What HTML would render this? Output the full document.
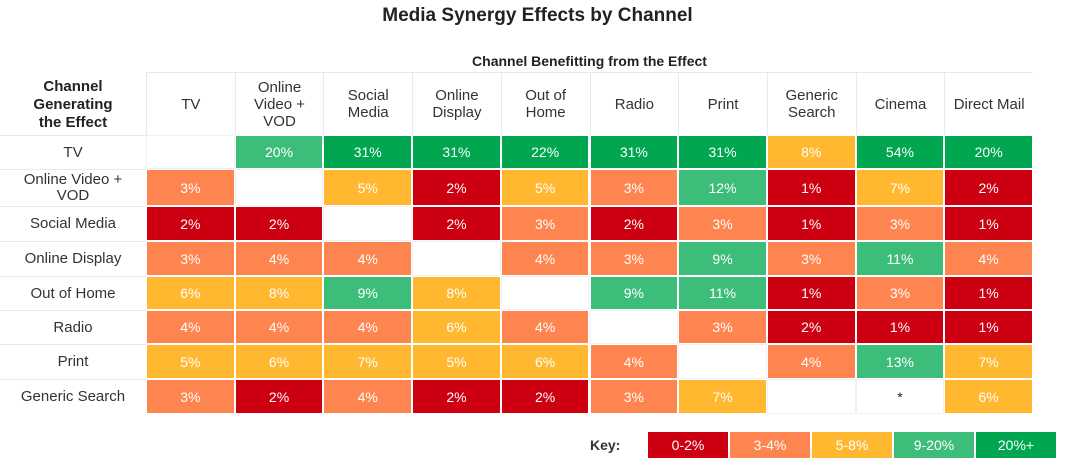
<!DOCTYPE html>
<html><head><meta charset="utf-8">
<style>
body{margin:0;width:1075px;height:465px;background:#fff;font-family:"Liberation Sans",sans-serif;position:relative;overflow:hidden;color:#333}
.abs{position:absolute}
#title{left:0;width:1075px;top:5px;text-align:center;font-weight:bold;font-size:19px;color:#222}
#sub{left:146px;width:887px;top:53px;text-align:center;font-weight:bold;font-size:14px;color:#222}
.hdr{display:flex;align-items:center;justify-content:center;text-align:center;font-size:15px;line-height:17px;color:#333;box-sizing:border-box;border-left:1px solid #e6eaf0;border-top:1px solid #e6eaf0}
.rl{display:flex;align-items:center;justify-content:center;text-align:center;font-size:15px;line-height:16px;color:#333;border-top:1px solid #e6eaf0;box-sizing:border-box}
.cell{display:flex;align-items:center;justify-content:center;font-size:14px;color:#fff;box-sizing:border-box;border:1px solid #fff}
</style></head><body>
<div id="title" class="abs">Media Synergy Effects by Channel</div>
<div id="sub" class="abs">Channel Benefitting from the Effect</div>
<div class="abs" style="left:0;width:146px;top:78px;text-align:center;font-weight:bold;font-size:15px;line-height:18px;color:#222">Channel<br>Generating<br>the Effect</div>
<div id="grid"></div>
<script>
const cols=["TV","Online<br>Video +<br>VOD","Social<br>Media","Online<br>Display","Out of<br>Home","Radio","Print","Generic<br>Search","Cinema","Direct Mail"];
const rows=["TV","Online Video +<br>VOD","Social Media","Online Display","Out of Home","Radio","Print","Generic Search"];
const vals=[
[null,20,31,31,22,31,31,8,54,20],
[3,null,5,2,5,3,12,1,7,2],
[2,2,null,2,3,2,3,1,3,1],
[3,4,4,null,4,3,9,3,11,4],
[6,8,9,8,null,9,11,1,3,1],
[4,4,4,6,4,null,3,2,1,1],
[5,6,7,5,6,4,null,4,13,7],
[3,2,4,2,2,3,7,null,"*",6]];
const tvOV=[0,1]; // TV->Online Video 20% shown in 9-20 bucket
const keyLabels=["0-2%","3-4%","5-8%","9-20%","20%+"];
const keyColors=["#cc0011","#ff8550","#ffb830","#3dbd7a","#00a650"];
function color(v,r,c){if(typeof v!=="number")return null;
 if(v<=2)return keyColors[0];if(v<=4)return keyColors[1];if(v<=8)return keyColors[2];if(v<=20&&!(v===20&&!(r===tvOV[0]&&c===tvOV[1])))return keyColors[3];return keyColors[4];}
const g=document.getElementById('grid');
const x0=146,cw=88.7,hy=72,hh=63;
const rowY=[135,169,206,241,276,310,344,379,414];
cols.forEach((t,i)=>{const d=document.createElement('div');d.className='abs hdr';


d.style.cssText+=`left:${x0+i*cw}px;width:${cw}px;top:${hy}px;height:${hh}px`;d.innerHTML=t;g.appendChild(d);});
rows.forEach((t,r)=>{const y=rowY[r],h=rowY[r+1]-y;
const d=document.createElement('div');d.className='abs rl';


d.style.cssText+=`left:0;width:${x0}px;top:${y}px;height:${h}px`;d.innerHTML=t;g.appendChild(d);
vals[r].forEach((v,c)=>{const e=document.createElement('div');e.className='abs cell';


const col=color(v,r,c);
e.style.cssText+=`left:${x0+c*cw}px;width:${cw}px;top:${y}px;height:${h}px;`+(col?`background:${col}`:'border:1px solid #eef1f5;color:#222');
e.textContent=v===null?'':(typeof v==='number'?v+'%':v);g.appendChild(e);});});
const kl=document.createElement('div');kl.className='abs';


kl.style.cssText='left:590px;top:437px;font-weight:bold;font-size:14px;color:#333';kl.textContent='Key:';g.appendChild(kl);
keyLabels.forEach((t,i)=>{const e=document.createElement('div');e.className='abs cell';


e.style.cssText+=`left:${647+i*82}px;width:82px;top:431px;height:28px;background:${keyColors[i]}`;e.textContent=t;g.appendChild(e);});
</script>
</body></html>
